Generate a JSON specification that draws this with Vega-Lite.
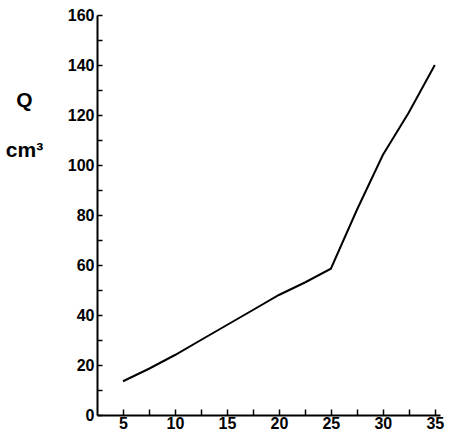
{
  "$schema": "https://vega.github.io/schema/vega-lite/v6.json",
  "autosize": "none",
  "width": 343,
  "height": 400,
  "padding": {"left": 97, "top": 15, "right": 14, "bottom": 25},
  "background": "white",
  "config": {
    "view": {"stroke": null},
    "font": "Liberation Sans",
    "axis": {"grid": false, "domainColor": "black", "tickColor": "black", "labelColor": "black", "titleColor": "black", "labelFont": "Liberation Sans", "labelFontWeight": "bold", "labelFontSize": 16, "domainWidth": 2, "tickWidth": 1.5}
  },
  "data": {"values": [
    {"x": 5, "q": 13.5},
    {"x": 7.5, "q": 18.5},
    {"x": 10, "q": 24},
    {"x": 12.5, "q": 30},
    {"x": 15, "q": 36},
    {"x": 17.5, "q": 42},
    {"x": 20, "q": 48},
    {"x": 22.5, "q": 53},
    {"x": 25, "q": 58.5},
    {"x": 27.5, "q": 82},
    {"x": 30, "q": 104},
    {"x": 32.5, "q": 121},
    {"x": 35, "q": 140}
  ]},
  "mark": {"type": "line", "color": "black", "strokeWidth": 2},
  "encoding": {
    "x": {"field": "x", "type": "quantitative", "scale": {"domain": [2.5, 35.5], "nice": false, "zero": false},
      "axis": {"values": [5, 7.5, 10, 12.5, 15, 17.5, 20, 22.5, 25, 27.5, 30, 32.5, 35], "labelExpr": "datum.value % 5 == 0 ? datum.label : ''", "tickSize": -6, "labelPadding": 6, "title": null}},
    "y": {"field": "q", "type": "quantitative", "scale": {"domain": [0, 160], "nice": false},
      "axis": {"values": [0, 10, 20, 30, 40, 50, 60, 70, 80, 90, 100, 110, 120, 130, 140, 150, 160], "labelExpr": "datum.value % 20 == 0 ? datum.label : ''", "tickSize": -5, "labelPadding": 8,
        "title": ["Q", "cm³"], "titleAngle": 0, "titleAlign": "center", "titleBaseline": "middle", "titleX": -73, "titleY": 85, "titleFontSize": 21, "titleFontWeight": "bold", "titleLineHeight": 50, "titleFont": "Liberation Sans"}}
  }
}
